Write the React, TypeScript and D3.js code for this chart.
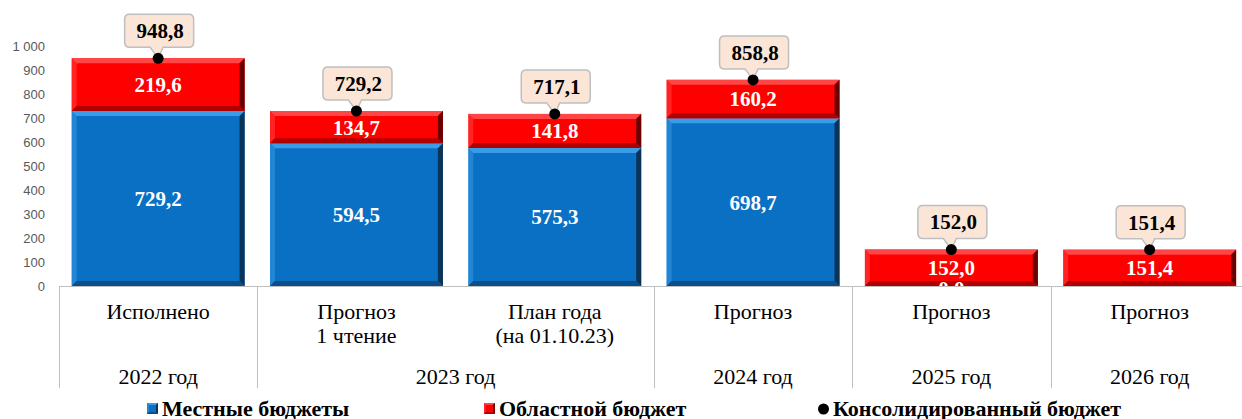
import React, { useRef, useEffect } from 'react';
import * as d3 from 'd3';

const categories = ['Исполнено', 'Прогноз|1 чтение', 'План года|(на 01.10.23)', 'Прогноз', 'Прогноз', 'Прогноз'];
const groups = [
  { label: '2022 год', from: 0, to: 0 },
  { label: '2023 год', from: 1, to: 2 },
  { label: '2024 год', from: 3, to: 3 },
  { label: '2025 год', from: 4, to: 4 },
  { label: '2026 год', from: 5, to: 5 },
];
const localBudget = [729.2, 594.5, 575.3, 698.7, 0, null];
const regionalBudget = [219.6, 134.7, 141.8, 160.2, 152.0, 151.4];
const consolidated = [948.8, 729.2, 717.1, 858.8, 152.0, 151.4];
const yTicks = [0, 100, 200, 300, 400, 500, 600, 700, 800, 900, 1000];

const fmt = (v: number) => v.toFixed(1).replace('.', ',');
const fmtTick = (v: number) => (v >= 1000 ? d3.format(',')(v).replace(',', ' ') : String(v));

const App = () => {
  const svgRef = useRef<SVGSVGElement>(null);

  useEffect(() => {
    document.body.style.margin = '0';
    const W = 1242, H = 419;
    const svg = d3.select(svgRef.current)
      .attr('width', W)
      .attr('height', H)
      .style('display', 'block');
    svg.selectAll('*').remove();

    const left = 59, step = 198.3, baseY = 286;
    const x = d3.scaleBand<number>()
      .domain(d3.range(categories.length))
      .range([left, left + step * categories.length])
      .paddingInner(0.128)
      .paddingOuter(0.064);
    const y = d3.scaleLinear().domain([0, 1000]).range([baseY, 46]);

    const serif = '"Liberation Serif", "Times New Roman", serif';
    const sans = '"Liberation Sans", Arial, sans-serif';

    // bevelled bar
    const bevel = (g: any, x0: number, y0: number, w: number, h: number, base: string, light: string, dark: string, darker: string, b0 = 5) => {
      if (h <= 0) return;
      const b = Math.min(b0, h / 2);
      g.append('rect').attr('x', x0).attr('y', y0).attr('width', w).attr('height', h).attr('fill', base);
      const x1 = x0 + w, y1 = y0 + h;
      g.append('polygon').attr('points', `${x0},${y0} ${x1},${y0} ${x1 - b},${y0 + b} ${x0 + b},${y0 + b}`).attr('fill', light);
      g.append('polygon').attr('points', `${x0},${y0} ${x0 + b},${y0 + b} ${x0 + b},${y1 - b} ${x0},${y1}`).attr('fill', light).attr('opacity', 0.5);
      g.append('polygon').attr('points', `${x1},${y0} ${x1},${y1} ${x1 - b},${y1 - b} ${x1 - b},${y0 + b}`).attr('fill', darker);
      g.append('polygon').attr('points', `${x0},${y1} ${x1},${y1} ${x1 - b},${y1 - b} ${x0 + b},${y1 - b}`).attr('fill', dark);
    };

    const bars = svg.append('g');
    categories.forEach((_, i) => {
      const lv = localBudget[i] ?? 0;
      const rv = regionalBudget[i] ?? 0;
      const bx = x(i)!, bw = x.bandwidth();
      bevel(bars, bx, y(lv), bw, y(0) - y(lv), '#0a70c4', '#3a9be6', '#0b4f8a', '#0a3358');
      bevel(bars, bx, y(lv + rv), bw, y(lv) - y(lv + rv), '#ff0000', '#ff4545', '#b00000', '#6a0000');
    });

    // value labels, clipped to the plot area
    svg.append('clipPath').attr('id', 'plot-clip')
      .append('rect').attr('x', 0).attr('y', 0).attr('width', W).attr('height', baseY);
    const labels = svg.append('g')
      .attr('clip-path', 'url(#plot-clip)')
      .attr('font-family', serif)
      .attr('font-weight', 'bold')
      .attr('font-size', 21)
      .attr('fill', '#fff')
      .attr('text-anchor', 'middle');
    categories.forEach((_, i) => {
      const cx = x(i)! + x.bandwidth() / 2;
      const lv = localBudget[i];
      const rv = regionalBudget[i];
      if (rv != null) {
        labels.append('text')
          .attr('x', cx)
          .attr('y', (y(lv ?? 0) + y((lv ?? 0) + rv)) / 2)
          .attr('dy', '0.35em')
          .text(fmt(rv));
      }
      if (lv != null) {
        labels.append('text')
          .attr('x', cx)
          .attr('y', (y(0) + y(lv)) / 2 + (lv === 0 ? 3 : 0))
          .attr('dy', '0.35em')
          .text(fmt(lv));
      }
    });

    // y tick labels
    svg.append('g')
      .selectAll('text')
      .data(yTicks)
      .join('text')
      .attr('x', 45)
      .attr('y', d => y(d))
      .attr('dy', '0.35em')
      .attr('text-anchor', 'end')
      .attr('font-family', sans)
      .attr('font-size', 13)
      .attr('fill', '#595959')
      .text(fmtTick);

    // category axis
    const axis = svg.append('g').attr('stroke', '#bfbfbf').attr('stroke-width', 1);
    axis.append('line').attr('x1', left).attr('x2', W).attr('y1', baseY + 0.5).attr('y2', baseY + 0.5);
    const bounds = [0, ...groups.map(g => g.to + 1)];
    bounds.forEach(b => {
      const lx = Math.round(left + step * b) + 0.5;
      axis.append('line').attr('x1', lx).attr('x2', lx).attr('y1', baseY).attr('y2', 388);
    });

    const catText = svg.append('g')
      .attr('font-family', serif)
      .attr('font-size', 22)
      .attr('fill', '#000')
      .attr('text-anchor', 'middle');
    categories.forEach((c, i) => {
      const cx = x(i)! + x.bandwidth() / 2;
      c.split('|').forEach((line, k) => {
        catText.append('text').attr('x', cx).attr('y', 319 + k * 24).text(line);
      });
    });
    groups.forEach(g => {
      const gx = left + step * (g.from + g.to + 1) / 2;
      catText.append('text').attr('x', gx).attr('y', 384).text(g.label);
    });

    // consolidated points with callouts
    const call = svg.append('g');
    categories.forEach((_, i) => {
      const cx = x(i)! + x.bandwidth() / 2;
      const cy = y(consolidated[i]);
      const bw = 69, bh = 33;
      const bx = cx - 33.5, by = cy - 11 - bh;
      const r = 5;
      const p = d3.path();
      p.moveTo(bx + r, by);
      p.lineTo(bx + bw - r, by);
      p.quadraticCurveTo(bx + bw, by, bx + bw, by + r);
      p.lineTo(bx + bw, by + bh - r);
      p.quadraticCurveTo(bx + bw, by + bh, bx + bw - r, by + bh);
      p.lineTo(cx + 5, by + bh);
      p.lineTo(cx, cy);
      p.lineTo(cx - 8, by + bh);
      p.lineTo(bx + r, by + bh);
      p.quadraticCurveTo(bx, by + bh, bx, by + bh - r);
      p.lineTo(bx, by + r);
      p.quadraticCurveTo(bx, by, bx + r, by);
      p.closePath();
      call.append('path').attr('d', p.toString()).attr('fill', '#fbe5d6').attr('stroke', '#bfbfbf').attr('stroke-width', 1.5);
      call.append('text')
        .attr('x', bx + bw / 2 + 1)
        .attr('y', by + bh / 2)
        .attr('dy', '0.35em')
        .attr('text-anchor', 'middle')
        .attr('font-family', serif)
        .attr('font-weight', 'bold')
        .attr('font-size', 21)
        .attr('fill', '#000')
        .text(fmt(consolidated[i]));
      call.append('circle').attr('cx', cx).attr('cy', cy).attr('r', 5.5).attr('fill', '#000');
    });

    // legend
    const legend = svg.append('g')
      .attr('font-family', serif)
      .attr('font-weight', 'bold')
      .attr('font-size', 22)
      .attr('fill', '#000');
    const items = [
      { label: 'Местные бюджеты', x: 147, kind: 'blue' },
      { label: 'Областной бюджет', x: 484, kind: 'red' },
      { label: 'Консолидированный бюджет', x: 818, kind: 'dot' },
    ];
    items.forEach(it => {
      if (it.kind === 'dot') {
        legend.append('circle').attr('cx', it.x + 5.5).attr('cy', 409).attr('r', 5.5).attr('fill', '#000');
      } else {
        const lg = legend.append('g');
        if (it.kind === 'blue') bevel(lg, it.x, 403, 11, 11, '#0a70c4', '#3a9be6', '#0b4f8a', '#0a3358', 2);
        else bevel(lg, it.x, 403, 11, 11, '#ff0000', '#ff4545', '#b00000', '#6a0000', 2);
      }
      legend.append('text').attr('x', it.x + 15).attr('y', 416).text(it.label);
    });
  }, []);

  return <svg ref={svgRef}></svg>;
};

export default App;
